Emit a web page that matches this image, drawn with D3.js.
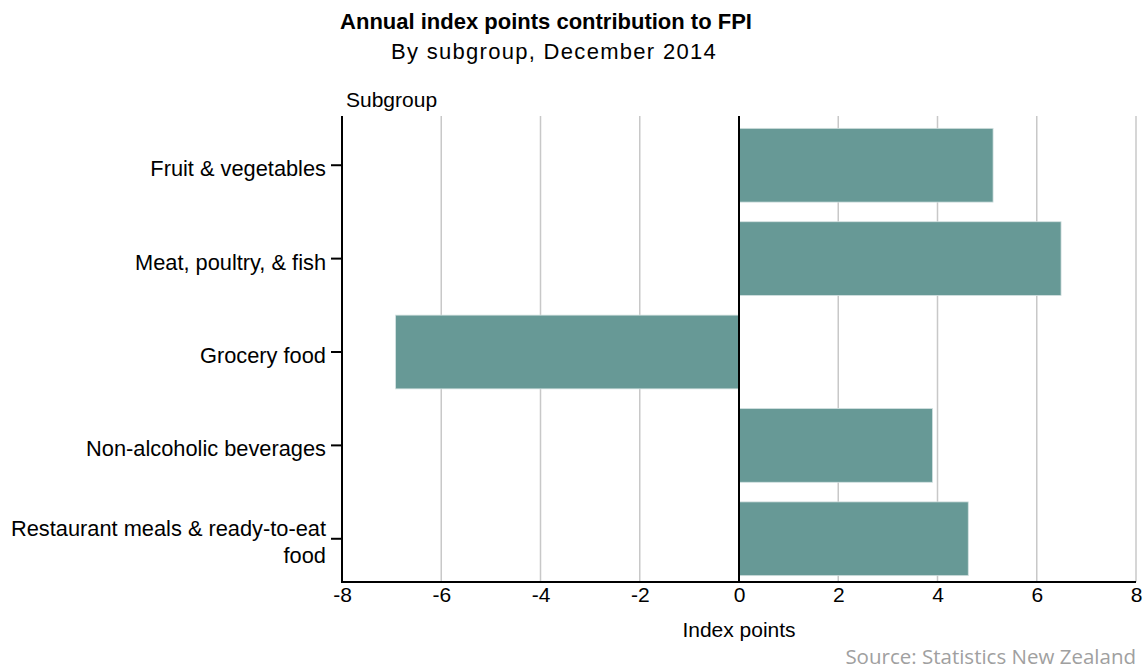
<!DOCTYPE html>
<html>
<head>
<meta charset="utf-8">
<script src="https://cdn.jsdelivr.net/npm/d3@7"></script>
<style>
  body { margin: 0; background: #fff; }
  svg { display: block; font-family: "Liberation Sans", Arial, sans-serif; }
</style>
</head>
<body>
<svg id="chart" width="1144" height="669"></svg>
<script>
// data
var categories = ["Fruit & vegetables", "Meat, poultry, & fish", "Grocery food",
                  "Non-alcoholic beverages", "Restaurant meals & ready-to-eat food"];
var values = [5.12, 6.49, -6.92, 3.9, 4.62];
var xTicks = [-8, -6, -4, -2, 0, 2, 4, 6, 8];

var svg = d3.select("#chart");

var plotTop = 116, plotBottom = 582;

var x = d3.scaleLinear().domain([-8, 8]).range([342, 1136]);
var y = d3.scaleBand().domain(categories).range([119, 585]).paddingInner(0.21).paddingOuter(0.1);

// gridlines
svg.append("g").selectAll("line")
    .data(xTicks.filter(function(d){ return d !== -8 && d !== 0; }))
    .enter().append("line")
    .attr("x1", function(d){ return x(d); })
    .attr("x2", function(d){ return x(d); })
    .attr("y1", plotTop)
    .attr("y2", plotBottom)
    .attr("stroke", "#c8c8c8")
    .attr("stroke-width", 1.5);

// bars
svg.append("g").selectAll("rect")
    .data(categories)
    .enter().append("rect")
    .attr("x", function(d, i){ return x(Math.min(0, values[i])); })
    .attr("width", function(d, i){ return Math.abs(x(values[i]) - x(0)); })
    .attr("y", function(d){ return y(d); })
    .attr("height", y.bandwidth())
    .attr("fill", "#679996")
    .attr("stroke", "#d4e2e1")
    .attr("stroke-width", 0.8);

// zero line
svg.append("line")
    .attr("x1", x(0)).attr("x2", x(0))
    .attr("y1", plotTop).attr("y2", plotBottom)
    .attr("stroke", "#000").attr("stroke-width", 2);

// x axis
var xAxis = svg.append("g")
    .attr("transform", "translate(0," + plotBottom + ")")
    .call(d3.axisBottom(x).tickValues(xTicks).tickSize(0).tickPadding(5).tickFormat(d3.format("d")));
xAxis.select(".domain").remove();
xAxis.selectAll("text")
    .style("font-family", "'Liberation Sans', Arial, sans-serif")
    .style("font-size", "21px")
    .attr("fill", "#000")
    .text(function(d){ return d < 0 ? "-" + Math.abs(d) : d; });

// y axis
var yAxis = svg.append("g")
    .attr("transform", "translate(" + x(-8) + ",0)")
    .call(d3.axisLeft(y).tickSize(11).tickPadding(5));
yAxis.select(".domain").remove();
yAxis.selectAll("line").attr("stroke", "#000").attr("stroke-width", 2);
yAxis.selectAll("text")
    .style("font-family", "'Liberation Sans', Arial, sans-serif")
    .style("font-size", "21.8px")
    .attr("fill", "#000")
    .each(function(){
        var t = d3.select(this);
        var words = t.text().split(" ");
        var xPos = t.attr("x");
        t.text(null).attr("dy", null);
        var lines = [], line = [];
        var tspan = t.append("tspan");
        words.forEach(function(w){
            line.push(w);
            tspan.text(line.join(" "));
            if (tspan.node().getComputedTextLength() > 320 && line.length > 1) {
                line.pop();
                lines.push(line.join(" "));
                line = [w];
            }
        });
        lines.push(line.join(" "));
        t.text(null);
        var first = 11 - (lines.length - 1) * 13.5;
        lines.forEach(function(l, k){
            t.append("tspan").attr("x", xPos)
                .attr("dy", k === 0 ? first : 27)
                .text(l);
        });
    });

// axis lines
svg.append("line")
    .attr("x1", x(-8)).attr("x2", x(-8))
    .attr("y1", plotTop).attr("y2", plotBottom + 1)
    .attr("stroke", "#000").attr("stroke-width", 2);
svg.append("line")
    .attr("x1", x(-8)).attr("x2", x(8))
    .attr("y1", plotBottom).attr("y2", plotBottom)
    .attr("stroke", "#000").attr("stroke-width", 2);

// titles
svg.append("text")
    .attr("x", 546).attr("y", 29)
    .attr("text-anchor", "middle")
    .style("font-size", "22px").style("font-weight", "bold")
    .text("Annual index points contribution to FPI");
svg.append("text")
    .attr("x", 554).attr("y", 59)
    .attr("text-anchor", "middle")
    .style("font-size", "22px").style("letter-spacing", "1.3px")
    .text("By subgroup, December 2014");
svg.append("text")
    .attr("x", 346).attr("y", 107)
    .style("font-size", "21px")
    .text("Subgroup");
svg.append("text")
    .attr("x", x(0)).attr("y", 637)
    .attr("text-anchor", "middle")
    .style("font-size", "21px")
    .text("Index points");
svg.append("text")
    .attr("x", 1136).attr("y", 664)
    .attr("text-anchor", "end")
    .style("font-family", "'Open Sans', sans-serif")
    .style("font-size", "20.5px")
    .attr("fill", "#a0a0a0")
    .text("Source: Statistics New Zealand");
</script>
</body>
</html>
